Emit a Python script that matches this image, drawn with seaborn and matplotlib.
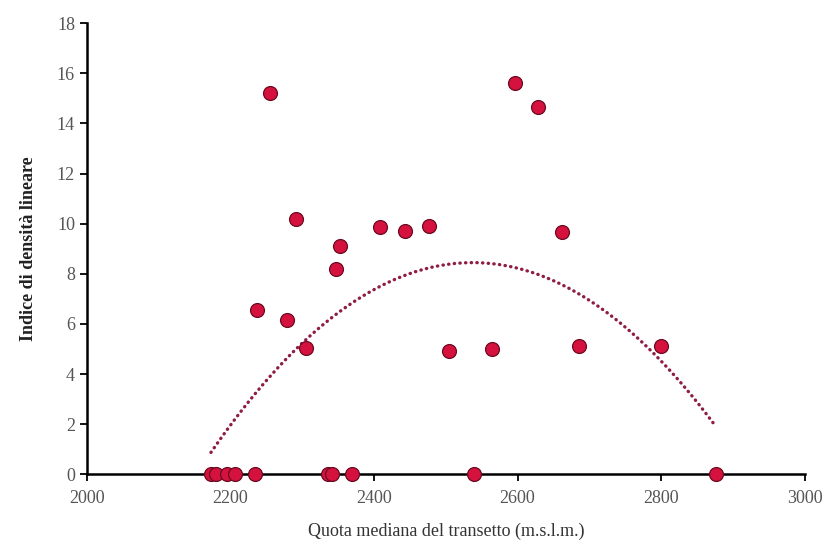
import numpy as np
import pandas as pd
import matplotlib
matplotlib.use('Agg')
import matplotlib.pyplot as plt
import seaborn as sns

# quota mediana (m s.l.m.) e indice di densita lineare
quota = [2255, 2291, 2237, 2279, 2306, 2347, 2353, 2408, 2443, 2477,
         2505, 2564, 2597, 2628, 2662, 2686, 2800,
         2173, 2180, 2196, 2207, 2235, 2336, 2341, 2370, 2540, 2876]
indice = [15.2, 10.2, 6.55, 6.15, 5.05, 8.2, 9.1, 9.85, 9.7, 9.9,
          4.9, 5.0, 15.6, 14.65, 9.65, 5.1, 5.1,
          0, 0, 0, 0, 0, 0, 0, 0, 0, 0]

df = pd.DataFrame({'quota': quota, 'indice': indice})

sns.set_style('ticks')
plt.rcParams['font.family'] = ['Liberation Serif', 'DejaVu Serif']

fig = plt.figure(figsize=(8.34, 5.54), dpi=100)
ax = fig.add_axes([0.104, 0.144, 0.861, 0.814])

# polynomial trend line (2nd order) like Excel
coef = np.polyfit(df['quota'], df['indice'], 2)
xs = np.linspace(df['quota'].min(), df['quota'].max(), 200)
ax.plot(xs, np.polyval(coef, xs), color='#8e1c44', lw=2.4,
        linestyle=(0, (0.1, 1.6)), dash_capstyle='round', zorder=2)

sns.scatterplot(data=df, x='quota', y='indice', ax=ax, s=100,
                color='#d4123d', edgecolor='#6b0a22', linewidth=0.9,
                zorder=3, clip_on=False)

ax.set_xlim(2000, 3000)
ax.set_ylim(0, 18)
ax.set_xticks(range(2000, 3001, 200))
ax.set_yticks(range(0, 19, 2))
ax.tick_params(labelsize=13, labelcolor='#555555', length=5, width=1.3, color='black')
ax.tick_params(axis='x', pad=6)
for s in ['left', 'bottom']:
    ax.spines[s].set_linewidth(1.8)
    ax.spines[s].set_color('black')
sns.despine(ax=ax)

ax.set_xlabel('Quota mediana del transetto (m.s.l.m.)', fontsize=13, color='#333333', labelpad=12)
ax.set_ylabel('Indice di densità lineare', fontsize=13, fontweight='bold', color='#222222', labelpad=14)

fig.savefig('out.png', dpi=100)
